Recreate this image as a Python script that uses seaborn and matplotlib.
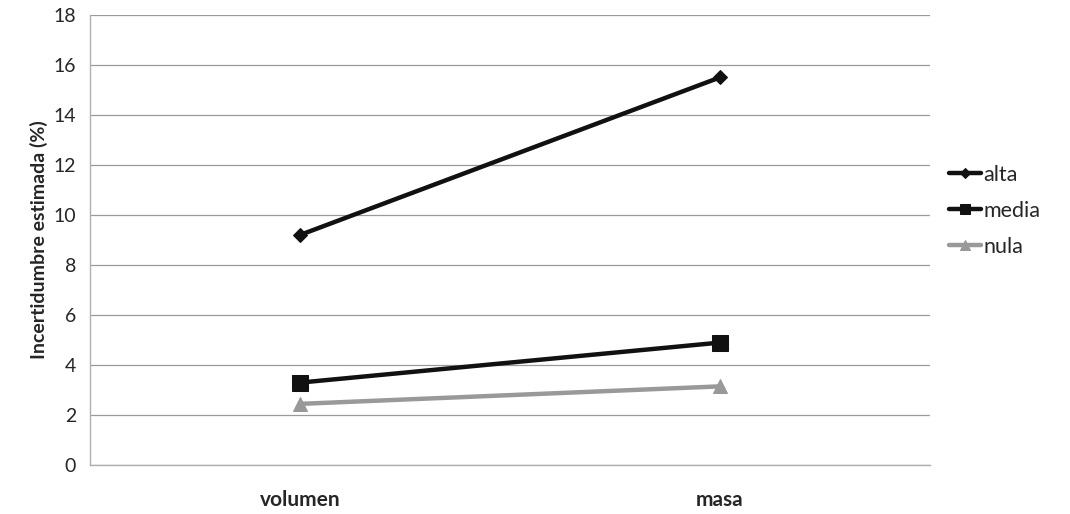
import pandas as pd
import matplotlib.pyplot as plt
import seaborn as sns

categorias = ["volumen", "masa"]
alta = [9.2, 15.5]
media = [3.3, 4.9]
nula = [2.45, 3.15]

series = {"alta": alta, "media": media, "nula": nula}
colores = {"alta": "#111111", "media": "#111111", "nula": "#999999"}
marcadores = {"alta": "D", "media": "s", "nula": "^"}
tamanos = {"alta": 7, "media": 11, "nula": 10}

rows = []
for nombre, valores in series.items():
    for cat, v in zip(categorias, valores):
        rows.append({"cat": cat, "valor": v, "serie": nombre})
df = pd.DataFrame(rows)

sns.set_style("white")
plt.rcParams['font.family'] = ['Lato', 'DejaVu Sans']

fig = plt.figure(figsize=(10.7, 5.14), dpi=100)
ax = fig.add_axes([0.084, 0.095, 0.785, 0.876])

for nombre in series:
    sub = df[df["serie"] == nombre]
    sns.lineplot(data=sub, x="cat", y="valor", ax=ax, color=colores[nombre],
                 marker=marcadores[nombre], markersize=tamanos[nombre],
                 markeredgecolor=colores[nombre], linewidth=3.2, label=nombre)

ax.set_xlim(-0.5, 1.5)
ax.set_ylim(0, 18)
ax.set_yticks(range(0, 19, 2))
ax.yaxis.grid(True, color="#9a9a9a", linewidth=0.9)
ax.set_axisbelow(True)
ax.set_xlabel("")
ax.set_ylabel("Incertidumbre estimada (%)", fontsize=14, fontweight="bold")
ax.tick_params(axis="y", labelsize=14, length=0, pad=10)
ax.tick_params(axis="x", labelsize=15, length=0, pad=18)
for lbl in ax.get_xticklabels():
    lbl.set_fontweight("bold")
for side in ["top", "right"]:
    ax.spines[side].set_visible(False)
for side in ["left", "bottom"]:
    ax.spines[side].set_color("#b0b0b0")
    ax.spines[side].set_linewidth(1)

leg = ax.legend(loc="center left", bbox_to_anchor=(1.0, 0.565), frameon=False,
                fontsize=15.5, handlelength=1.5, handletextpad=0.1, labelspacing=0.75,
                markerscale=0.7)

fig.savefig("out.png", dpi=100)
